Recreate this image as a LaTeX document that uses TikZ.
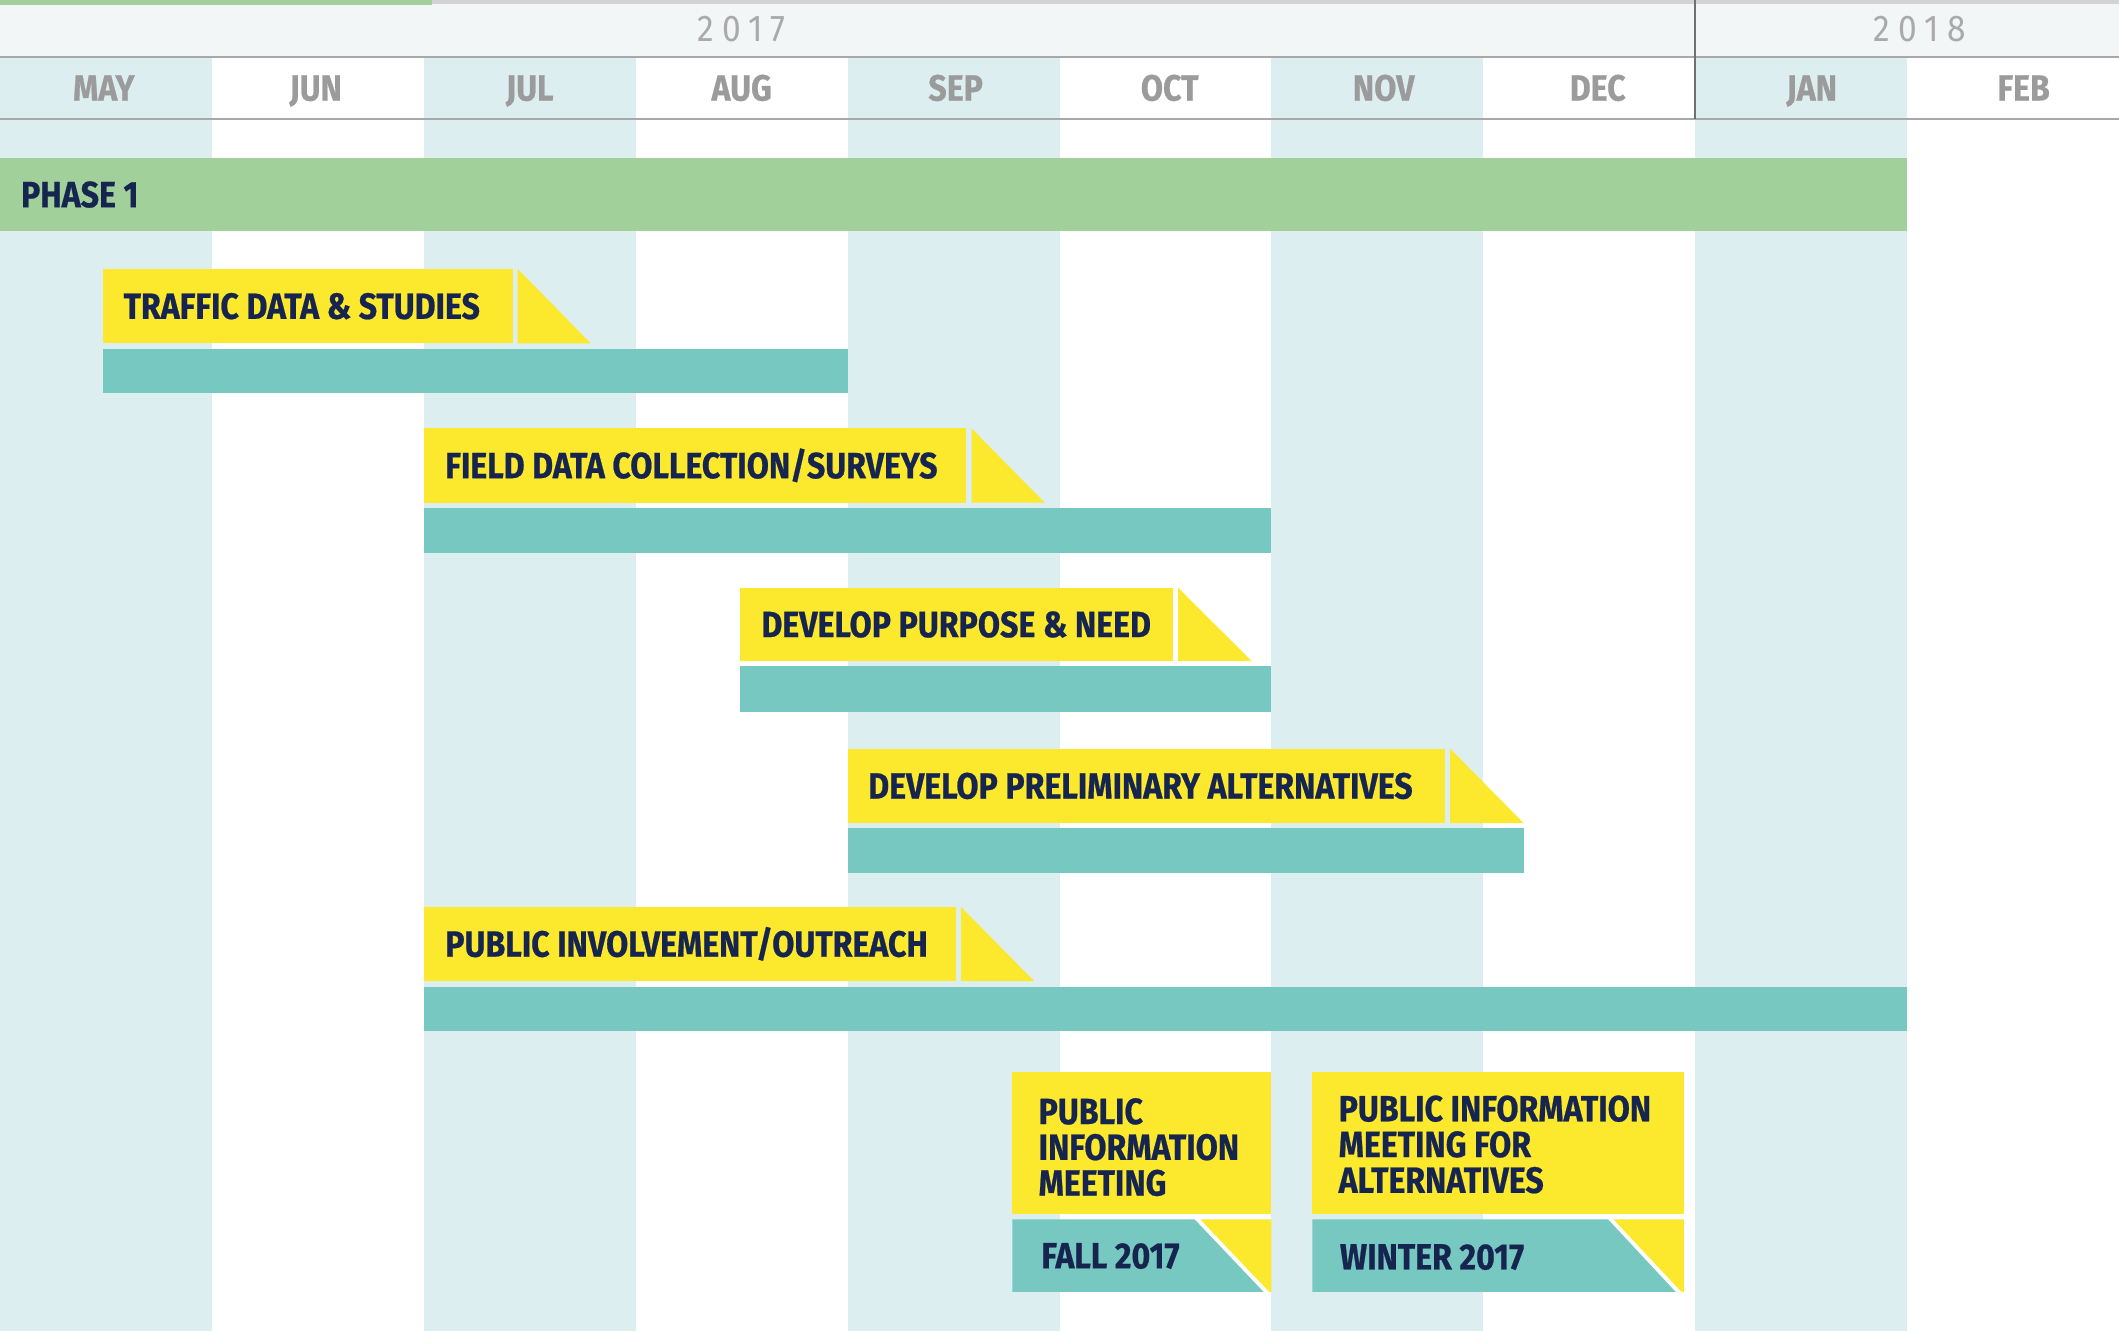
\documentclass[tikz,border=0pt]{standalone}
\usepackage{fontspec}
\newfontfamily\ganttfont{Fira Sans}[FakeStretch=0.88, BoldFeatures={FakeBold=0.6}]
\newfontfamily\yearfont{Fira Sans}[FakeStretch=0.9, LetterSpace=22]
\usetikzlibrary{positioning}
\definecolor{colteal}{HTML}{DCEEF0}
\definecolor{yearband}{HTML}{F3F6F6}
\definecolor{phasegreen}{HTML}{A1D09B}
\definecolor{tagyellow}{HTML}{FCE82C}
\definecolor{barteal}{HTML}{78C8C2}
\definecolor{navy}{HTML}{16254F}
\definecolor{monthgrey}{HTML}{9B9B9B}
\definecolor{linegrey}{HTML}{A8A8A8}
\definecolor{divgrey}{HTML}{707070}

\begin{document}
\begin{tikzpicture}[x=2cm, y=2cm,
    task/.style={font=\ganttfont\bfseries\fontsize{9.8}{9.6}\selectfont, text=navy,
        inner sep=0pt, text height=6.8pt, text depth=0pt, anchor=west},
    meeting/.style={font=\ganttfont\bfseries\fontsize{9.8}{9.6}\selectfont, text=navy,
        inner sep=0pt, align=left, anchor=north west},
    month/.style={font=\ganttfont\bfseries\fontsize{9.8}{9.6}\selectfont, text=monthgrey,
        inner sep=0pt, text height=6.8pt, text depth=0pt},
    year/.style={font=\yearfont\fontsize{10}{10}\selectfont, text=monthgrey!85,
        inner sep=0pt, text height=7pt, text depth=0pt}]
    \useasboundingbox (0,0) rectangle (10,-6.282);
    % month columns
    \fill[colteal] (0,-0.268) rectangle (1,-6.282);
    \fill[colteal] (2,-0.268) rectangle (3,-6.282);
    \fill[colteal] (4,-0.268) rectangle (5,-6.282);
    \fill[colteal] (6,-0.268) rectangle (7,-6.282);
    \fill[colteal] (8,-0.268) rectangle (9,-6.282);
    % header
    \fill[yearband] (0,0) rectangle (10,-0.268);
    \fill[linegrey!50] (2.04,0) rectangle (10,-0.02);
    \fill[phasegreen] (0,0) rectangle (2.04,-0.025);
    \draw[linegrey, line width=0.6pt] (0,-0.268) -- (10,-0.268);
    \draw[linegrey, line width=0.6pt] (0,-0.561) -- (10,-0.561);
    \draw[divgrey, line width=0.6pt] (8,0) -- (8,-0.561);
    \node[year] (y2017) at (3.5,-0.134) {2017};
    \node[year] (y2018) at (9.06,-0.134) {2018};
    \node[month] (may) at (0.49,-0.415) {MAY};
    \node[month] (jun) at (1.49,-0.415) {JUN};
    \node[month] (jul) at (2.5,-0.415) {JUL};
    \node[month] (aug) at (3.5,-0.415) {AUG};
    \node[month] (sep) at (4.51,-0.415) {SEP};
    \node[month] (oct) at (5.52,-0.415) {OCT};
    \node[month] (nov) at (6.53,-0.415) {NOV};
    \node[month] (dec) at (7.54,-0.415) {DEC};
    \node[month] (jan) at (8.55,-0.415) {JAN};
    \node[month] (feb) at (9.55,-0.415) {FEB};
    % phase
    \fill[phasegreen] (0,-0.746) rectangle (9,-1.091);
    \node[task] (phase) at (0.096,-0.918) {PHASE 1};
    % traffic data
    \fill[tagyellow] (0.485,-1.269) rectangle (2.423,-1.620);
    \fill[tagyellow] (2.443,-1.269) -- (2.443,-1.620) -- (2.787,-1.620) -- cycle;
    \fill[barteal] (0.485,-1.645) rectangle (4,-1.856);
    \node[task] (traffic) at (0.58,-1.445) {TRAFFIC DATA \& STUDIES};
    % field data
    \fill[tagyellow] (2,-2.022) rectangle (4.56,-2.372);
    \fill[tagyellow] (4.585,-2.022) -- (4.585,-2.372) -- (4.93,-2.372) -- cycle;
    \fill[barteal] (2,-2.398) rectangle (6,-2.608);
    \node[task] (field) at (2.098,-2.197) {FIELD DATA COLLECTION/SURVEYS};
    % purpose and need
    \fill[tagyellow] (3.49,-2.774) rectangle (5.536,-3.119);
    \fill[tagyellow] (5.56,-2.774) -- (5.56,-3.119) -- (5.906,-3.119) -- cycle;
    \fill[barteal] (3.49,-3.144) rectangle (6,-3.361);
    \node[task] (purpose) at (3.59,-2.947) {DEVELOP PURPOSE \& NEED};
    % preliminary alternatives
    \fill[tagyellow] (4,-3.533) rectangle (6.818,-3.884);
    \fill[tagyellow] (6.843,-3.533) -- (6.843,-3.884) -- (7.19,-3.884) -- cycle;
    \fill[barteal] (4,-3.909) rectangle (7.19,-4.120);
    \node[task] (prelim) at (4.094,-3.709) {DEVELOP PRELIMINARY ALTERNATIVES};
    % public involvement
    \fill[tagyellow] (2,-4.279) rectangle (4.51,-4.630);
    \fill[tagyellow] (4.534,-4.279) -- (4.534,-4.630) -- (4.88,-4.630) -- cycle;
    \fill[barteal] (2,-4.656) rectangle (9,-4.866);
    \node[task] (outreach) at (2.098,-4.455) {PUBLIC INVOLVEMENT/OUTREACH};
    % meeting fall
    \fill[tagyellow] (4.777,-5.057) rectangle (6,-5.727);
    \fill[barteal] (4.777,-5.755) -- (5.638,-5.755) -- (5.963,-6.097) -- (4.777,-6.097) -- cycle;
    \fill[tagyellow] (5.665,-5.755) -- (6,-5.755) -- (6,-6.097) -- (5.99,-6.097) -- cycle;
    \node[meeting] (fallmeet) at (4.898,-5.179) {PUBLIC\\INFORMATION\\MEETING};
    \node[task] (fall) at (4.911,-5.926) {FALL 2017};
    % meeting winter
    \fill[tagyellow] (6.193,-5.057) rectangle (7.946,-5.727);
    \fill[barteal] (6.193,-5.755) -- (7.589,-5.755) -- (7.908,-6.097) -- (6.193,-6.097) -- cycle;
    \fill[tagyellow] (7.615,-5.755) -- (7.946,-5.755) -- (7.946,-6.097) -- (7.935,-6.097) -- cycle;
    \node[meeting] (wintermeet) at (6.314,-5.166) {PUBLIC INFORMATION\\MEETING FOR\\ALTERNATIVES};
    \node[task] (winter) at (6.32,-5.931) {WINTER 2017};
\end{tikzpicture}
\end{document}
